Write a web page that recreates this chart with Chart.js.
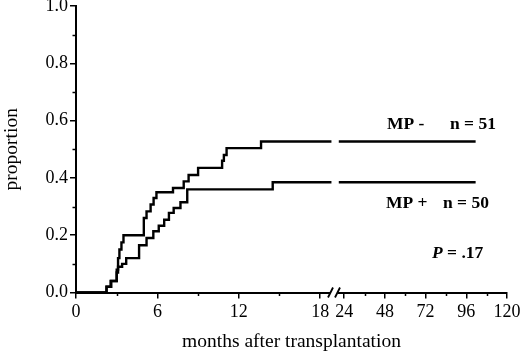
<!DOCTYPE html>
<html>
<head>
<meta charset="utf-8">
<script src="https://cdn.jsdelivr.net/npm/chart.js@4"></script>
<style>
    html, body { margin: 0; padding: 0; background: #fff; }
    #wrap { width: 520px; height: 354px; }
</style>
</head>
<body>
<div id="wrap"><canvas id="grafik" width="520" height="354"></canvas></div>
<script>
// Zaman (ay) ve oran değerleri
const mpEksiAy    = [0, 2.25, 2.55, 3.0, 3.1, 3.2, 3.35, 3.5, 5.0, 5.2, 5.5, 5.72, 5.93, 7.15, 7.94, 8.3, 9.0, 10.77, 10.9, 11.1, 13.64];
const mpEksiOran  = [0, 0.02, 0.04, 0.08, 0.12, 0.15, 0.175, 0.2, 0.26, 0.283, 0.307, 0.33, 0.35, 0.365, 0.388, 0.41, 0.435, 0.46, 0.48, 0.504, 0.527];
const mpArtiAy    = [0, 2.25, 2.6, 3.0, 3.1, 3.4, 3.7, 4.65, 5.2, 5.7, 6.1, 6.5, 6.85, 7.2, 7.7, 8.2, 14.5];
const mpArtiOran  = [0, 0.02, 0.04, 0.07, 0.09, 0.1, 0.12, 0.165, 0.19, 0.214, 0.233, 0.254, 0.278, 0.295, 0.315, 0.36, 0.385];
const sonAy = 101.5;

const xEtiketleri = [0, 6, 12, 18, 24, 48, 72, 96, 120];
const xAraCizgi   = [3, 9, 15, 36, 60, 84, 108];
const yEtiketleri = [0, 0.2, 0.4, 0.6, 0.8, 1.0];
const yAraCizgi   = [0.1, 0.3, 0.5, 0.7, 0.9];

// Kırık eksen: 18. aydan sonra ölçek 1/8
const SOL_SON = 18.83;
const SAG_BAS = 19.37;
function ekrana(ay) {
    return ay <= SOL_SON ? ay : 19.77 + (ay - 24) / 8;
}

function noktalar(aylar, oranlar) {
    const pts = aylar.map((a, i) => ({ x: ekrana(a), y: oranlar[i] }));
    const son = oranlar[oranlar.length - 1];
    pts.push({ x: SOL_SON, y: son });
    pts.push({ x: (SOL_SON + SAG_BAS) / 2, y: null });
    pts.push({ x: SAG_BAS, y: son });
    pts.push({ x: ekrana(sonAy), y: son });
    return pts;
}

const serif = "'Liberation Serif', 'DejaVu Serif', serif";

// Ara çizgiler, eksen kırığı ve metinler
const ekstraCizim = {
    id: "ekstraCizim",
    afterDraw(chart) {
        const ctx = chart.ctx;
        const xs = chart.scales.x, ys = chart.scales.y;
        const alt = chart.chartArea.bottom, sol = chart.chartArea.left;
        ctx.save();
        ctx.strokeStyle = "#000";
        ctx.lineWidth = 1.5;
        xAraCizgi.forEach((m) => {
            const px = Math.round(xs.getPixelForValue(ekrana(m))) + 0.5;
            ctx.beginPath(); ctx.moveTo(px, alt); ctx.lineTo(px, alt + 3.5); ctx.stroke();
        });
        yAraCizgi.forEach((v) => {
            const py = Math.round(ys.getPixelForValue(v)) + 0.5;
            ctx.beginPath(); ctx.moveTo(sol, py); ctx.lineTo(sol - 3.5, py); ctx.stroke();
        });
        // eksen kırığı
        ctx.fillStyle = "#fff";
        ctx.fillRect(330, alt - 3, 8, 6);
        ctx.lineWidth = 1.8;
        ctx.beginPath(); ctx.moveTo(328, alt + 5); ctx.lineTo(333, alt - 5); ctx.stroke();
        ctx.beginPath(); ctx.moveTo(335, alt + 5); ctx.lineTo(340, alt - 5); ctx.stroke();

        ctx.fillStyle = "#000";
        ctx.textBaseline = "alphabetic";
        ctx.textAlign = "left";
        ctx.font = "bold 17.5px " + serif;
        ctx.fillText("MP -", 387, 129);
        ctx.fillText("n = 51", 450, 129);
        ctx.fillText("MP +", 386, 208);
        ctx.fillText("n = 50", 443, 208);
        ctx.font = "bold italic 17.5px " + serif;
        ctx.fillText("P", 432, 258);
        const w = ctx.measureText("P").width;
        ctx.font = "bold 17.5px " + serif;
        ctx.fillText(" = .17", 432 + w, 258);
        ctx.restore();
    },
};

const cizgi = (veri) => ({
    data: veri,
    borderColor: "#000",
    borderWidth: 2.4,
    pointRadius: 0,
    stepped: true,
    spanGaps: false,
    fill: false,
});

new Chart(document.getElementById("grafik").getContext("2d"), {
    type: "line",
    data: {
        datasets: [cizgi(noktalar(mpEksiAy, mpEksiOran)), cizgi(noktalar(mpArtiAy, mpArtiOran))],
    },
    options: {
        responsive: false,
        animation: false,
        events: [],
        layout: { padding: { top: 6, right: 13, left: 0, bottom: 0 } },
        plugins: { legend: { display: false }, tooltip: { enabled: false } },
        scales: {
            x: {
                type: "linear",
                min: 0,
                max: ekrana(120),
                afterBuildTicks: (scale) => {
                    scale.ticks = xEtiketleri.map((m) => ({ value: ekrana(m) }));
                },
                afterFit: (scale) => {
                    scale.height = 61.5;
                    scale.paddingLeft = 0;
                    scale.paddingRight = 0;
                },
                ticks: {
                    autoSkip: false,
                    maxRotation: 0,
                    padding: 3,
                    color: "#000",
                    font: { family: serif, size: 18 },
                    callback: (v, i) => xEtiketleri[i],
                },
                grid: { drawOnChartArea: false, drawTicks: true, tickLength: 6, color: "#000", lineWidth: 1.5 },
                border: { color: "#000", width: 2 },
                title: {
                    display: true,
                    text: "months after transplantation",
                    color: "#000",
                    font: { family: serif, size: 19.5 },
                    padding: { top: 4, bottom: 0 },
                },
            },
            y: {
                min: 0,
                max: 1,
                afterBuildTicks: (scale) => {
                    scale.ticks = yEtiketleri.map((v) => ({ value: v }));
                },
                afterFit: (scale) => {
                    scale.width = 76;
                    scale.paddingTop = 0;
                    scale.paddingBottom = 0;
                },
                ticks: {
                    padding: 2,
                    color: "#000",
                    font: { family: serif, size: 18 },
                    callback: (v) => v.toFixed(1),
                },
                grid: { drawOnChartArea: false, drawTicks: true, tickLength: 6, color: "#000", lineWidth: 1.5 },
                border: { color: "#000", width: 2 },
                title: {
                    display: true,
                    text: "proportion",
                    color: "#000",
                    font: { family: serif, size: 19.5 },
                    padding: { top: 0, bottom: 0 },
                },
            },
        },
    },
    plugins: [ekstraCizim],
});
</script>
</body>
</html>
